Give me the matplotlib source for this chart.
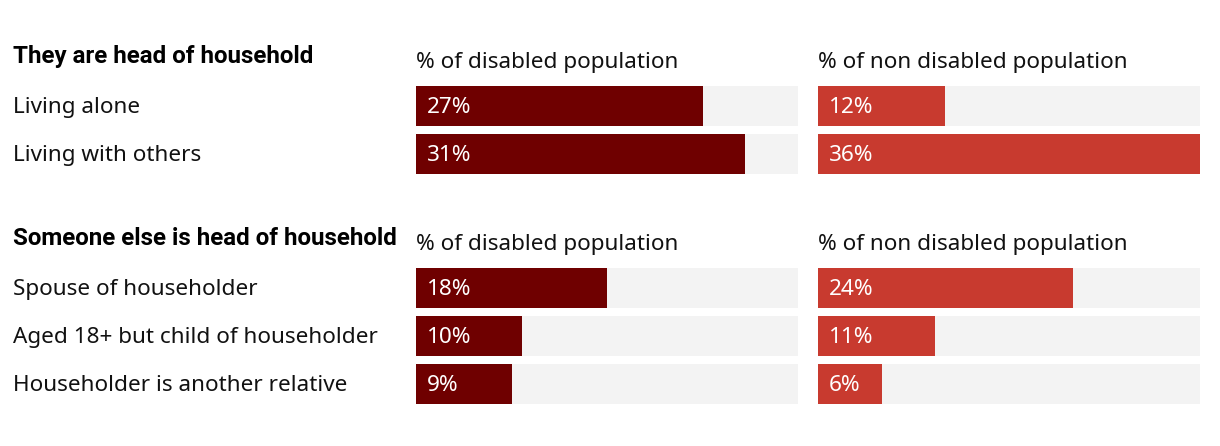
import matplotlib
matplotlib.use('Agg')
import matplotlib.pyplot as plt

W, H = 1220, 446

group_titles = ["They are head of household", "Someone else is head of household"]
col_titles = ["% of disabled population", "% of non disabled population"]
group1_categories = ["Living alone", "Living with others"]
group1_disabled = [27, 31]
group1_nondisabled = [12, 36]
group2_categories = ["Spouse of householder", "Aged 18+ but child of householder",
                     "Householder is another relative"]
group2_disabled = [18, 10, 9]
group2_nondisabled = [24, 11, 6]
xmax = 36

DARK = '#6f0000'
RED = '#c83a2f'
BG = '#f3f3f3'
FONT = 'Noto Sans'
BOLD_FONT = 'Roboto'
FS = 16.2

plt.rcParams['font.family'] = [FONT, 'DejaVu Sans']

fig = plt.figure(figsize=(W / 100, H / 100), dpi=100)
fig.patch.set_facecolor('white')


def px_axes(x0, y0, w, h):
    return fig.add_axes([x0 / W, 1 - (y0 + h) / H, w / W, h / H])


pitch = 48
bar_h = 40
groups = [
    (group_titles[0], group1_categories, group1_disabled, group1_nondisabled, 86),
    (group_titles[1], group2_categories, group2_disabled, group2_nondisabled, 268),
]
col_x = [416, 818]
col_w = 382

for title, cats, dis, nondis, top in groups:
    n = len(cats)
    fig.text(13 / W, 1 - (top - 23) / H, title, fontsize=17.4, fontweight='bold',
             family=[BOLD_FONT, 'DejaVu Sans'],
             va='baseline', ha='left', color='black')
    for ci, (vals, color) in enumerate([(dis, DARK), (nondis, RED)]):
        fig.text(col_x[ci] / W, 1 - (top - 18) / H, col_titles[ci], fontsize=FS,
                 va='baseline', ha='left', color='#111111')
        ax = px_axes(col_x[ci], top, col_w, (n - 1) * pitch + bar_h)
        ys = list(range(n))
        h = bar_h / pitch
        ax.barh(ys, [xmax] * n, height=h, color=BG, linewidth=0)
        ax.barh(ys, vals, height=h, color=color, linewidth=0)
        ax.set_xlim(0, xmax)
        ax.set_ylim(n - 1 + h / 2, -h / 2)
        ax.axis('off')
        for i, v in enumerate(vals):
            ax.annotate(f"{v}%", xy=(0, i), xycoords='data', xytext=(11, -7),
                        textcoords='offset pixels', va='baseline', ha='left',
                        color='white', fontsize=FS)
        if ci == 0:
            for i, c in enumerate(cats):
                ax.annotate(c, xy=(13, i), xycoords=('figure pixels', 'data'),
                            xytext=(0, -7), textcoords='offset pixels',
                            va='baseline', ha='left', color='#111111', fontsize=FS)

fig.savefig('out.png', dpi=100)
